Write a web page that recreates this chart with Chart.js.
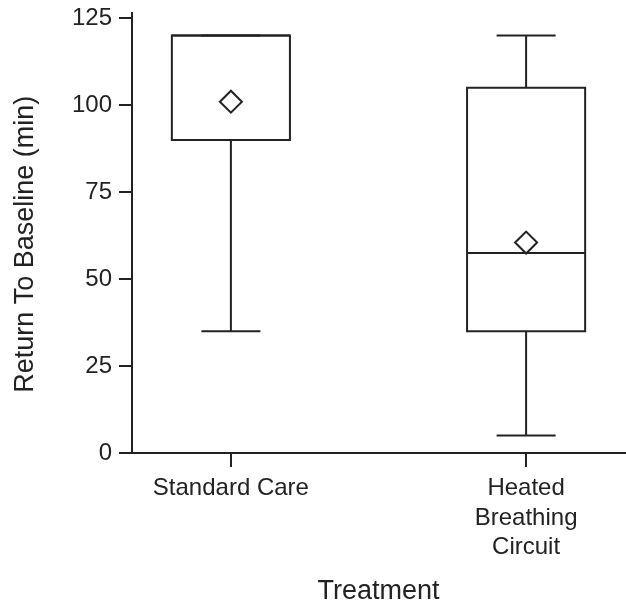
<!DOCTYPE html>
<html>
<head>
<meta charset="utf-8">
<script src="https://cdn.jsdelivr.net/npm/chart.js@4"></script>
<style>
  html, body { margin: 0; padding: 0; background: #fff; }
</style>
</head>
<body>
<canvas id="boxChart" width="626" height="606"></canvas>
<script>
// Box plot data
const groups = ["Standard Care", ["Heated", "Breathing", "Circuit"]];
const mins = [35, 5];
const q1s = [90, 35];
const medians = [120, 57.5];
const q3s = [120, 105];
const maxs = [120, 120];
const means = [101, 60.5];
const yTicks = [0, 25, 50, 75, 100, 125];

const INK = "#222";
const FONT = "'Liberation Sans', Arial, sans-serif";
const halfBox = 0.2;
const halfCap = 0.1;

// outlines as broken line segments (y:null splits the path)
const boxPts = [];
const medianPts = [];
const whiskerPts = [];

groups.forEach((g, i) => {
  const x = i + 1;
  boxPts.push(
    { x: x - halfBox, y: q1s[i] }, { x: x + halfBox, y: q1s[i] },
    { x: x + halfBox, y: q3s[i] }, { x: x - halfBox, y: q3s[i] },
    { x: x - halfBox, y: q1s[i] }, { x: x, y: null }
  );
  medianPts.push({ x: x - halfBox, y: medians[i] }, { x: x + halfBox, y: medians[i] }, { x: x, y: null });
  whiskerPts.push(
    { x: x, y: q1s[i] }, { x: x, y: mins[i] }, { x: x, y: null },
    { x: x - halfCap, y: mins[i] }, { x: x + halfCap, y: mins[i] }, { x: x, y: null },
    { x: x, y: q3s[i] }, { x: x, y: maxs[i] }, { x: x, y: null },
    { x: x - halfCap, y: maxs[i] }, { x: x + halfCap, y: maxs[i] }, { x: x, y: null }
  );
});

const meanPts = means.map((m, i) => ({ x: i + 1, y: m }));

const lineStyle = {
  borderColor: INK,
  borderWidth: 2,
  pointRadius: 0,
  pointHoverRadius: 0,
  tension: 0,
  fill: false,
  spanGaps: false,
  borderJoinStyle: "miter",
  order: 1
};

new Chart(document.getElementById("boxChart"), {
  type: "line",
  data: {
    datasets: [
      Object.assign({ label: "Box", data: boxPts, borderCapStyle: "square" }, lineStyle),
      Object.assign({ label: "Median", data: medianPts, borderCapStyle: "butt" }, lineStyle),
      Object.assign({ label: "Whiskers", data: whiskerPts, borderCapStyle: "butt" }, lineStyle),
      {
        type: "scatter",
        label: "Mean",
        data: meanPts,
        showLine: false,
        pointStyle: "rectRot",
        pointRadius: 11,
        pointHoverRadius: 11,
        pointBorderWidth: 2,
        backgroundColor: "#fff",
        borderColor: INK,
        order: 0
      }
    ]
  },
  options: {
    responsive: false,
    animation: false,
    events: [],
    layout: { autoPadding: false, padding: { top: 13, right: 1, bottom: 0, left: 0 } },
    plugins: {
      legend: { display: false },
      tooltip: { enabled: false }
    },
    scales: {
      x: {
        type: "linear",
        min: 0.665,
        max: 2.335,
        afterBuildTicks: s => { s.ticks = groups.map((g, i) => ({ value: i + 1 })); },
        afterFit: s => { s.height = 153; },
        ticks: {
          callback: v => groups[v - 1],
          color: INK,
          font: { family: FONT, size: 24, lineHeight: 1.22 },
          padding: 7,
          maxRotation: 0,
          autoSkip: false
        },
        grid: { drawOnChartArea: false, drawTicks: true, tickLength: 14, color: INK, lineWidth: 2 },
        border: { display: true, color: INK, width: 2 },
        title: {
          display: true,
          text: "Treatment",
          color: INK,
          font: { family: FONT, size: 27, lineHeight: 1.1 },
          padding: { top: 0, bottom: 0 }
        }
      },
      y: {
        min: 0,
        max: 126.5,
        afterBuildTicks: s => { s.ticks = yTicks.map(v => ({ value: v })); },
        afterFit: s => { s.width = 132; s.paddingTop = 0; },
        ticks: {
          color: INK,
          font: { family: FONT, size: 24, lineHeight: 1 },
          padding: 7
        },
        grid: { drawOnChartArea: false, drawTicks: true, tickLength: 13, color: INK, lineWidth: 2 },
        border: { display: true, color: INK, width: 2 },
        title: {
          display: true,
          text: "Return To Baseline (min)   ",
          color: INK,
          font: { family: FONT, size: 27, lineHeight: 1.1 },
          padding: { top: 11, bottom: 0 }
        }
      }
    }
  }
});
</script>
</body>
</html>
